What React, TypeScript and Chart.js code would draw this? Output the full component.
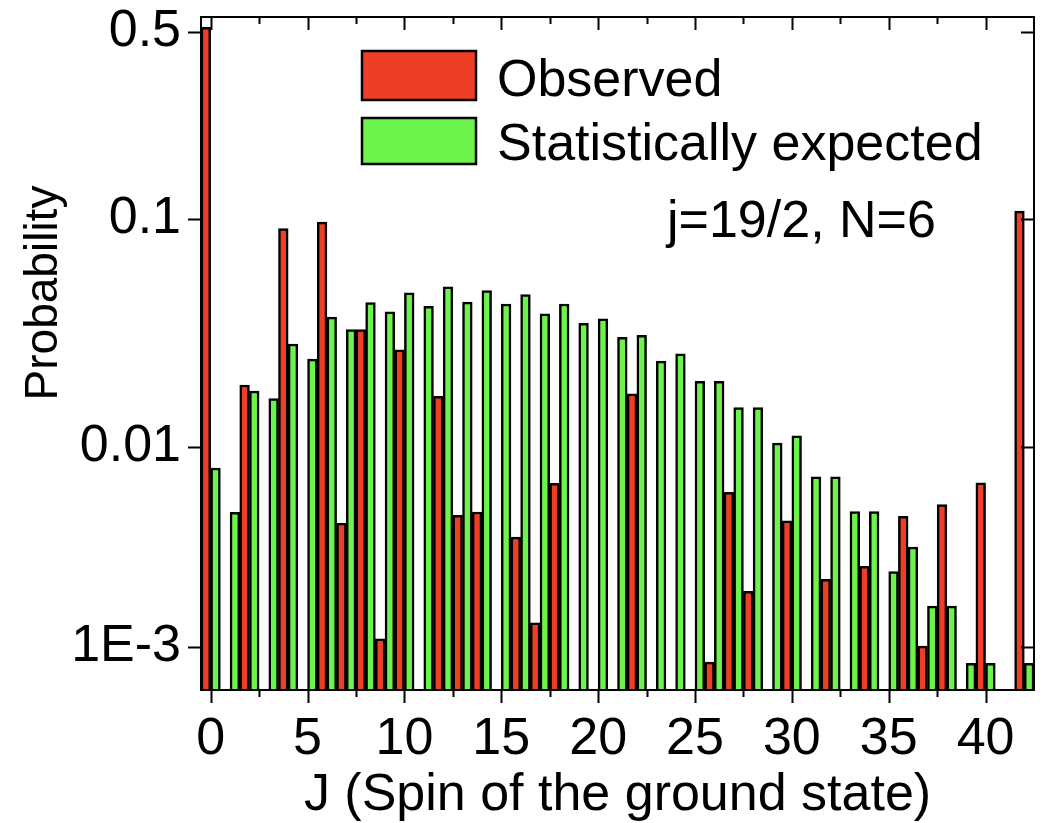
import React, { useEffect, useRef } from 'react';
import { Chart, registerables, LogarithmicScale } from 'chart.js';

Chart.register(...registerables);

// ---------------- data ----------------
const J_VALUES = [
  0, 1, 2, 3, 4, 5, 6, 7, 8, 9, 10, 11, 12, 13, 14, 15, 16, 17, 18, 19, 20,
  21, 22, 23, 24, 25, 26, 27, 28, 29, 30, 31, 32, 33, 34, 35, 36, 37, 38, 39, 40, 41, 42,
];

const OBSERVED: (number | null)[] = [
  0.52, null, 0.0187, null, 0.0908, null, 0.0969, 0.00416, 0.0327, 0.0011,
  0.0267, null, 0.0167, 0.00455, 0.00473, null, 0.00354, 0.00132, 0.00658, null,
  null, null, 0.0171, null, null, null, 0.00084, 0.00594, 0.0019, null,
  0.00427, null, 0.00218, null, 0.00253, null, 0.0045, 0.00101, 0.00516, null,
  0.00662, null, 0.107,
];

const EXPECTED: (number | null)[] = [
  0.00785, 0.00472, 0.0176, 0.0163, 0.0283, 0.0243, 0.0371, 0.0327, 0.043, 0.0392,
  0.0474, 0.0414, 0.0504, 0.0432, 0.0485, 0.0424, 0.0466, 0.0384, 0.0424, 0.0349,
  0.0365, 0.0303, 0.0309, 0.0238, 0.0256, 0.0194, 0.0194, 0.0149, 0.0149, 0.0104,
  0.0112, 0.0071, 0.0071, 0.00475, 0.00475, 0.00238, 0.00316, 0.0016, 0.0016, 0.00083,
  0.00083, null, 0.00083,
];

const X_TICKS = [0, 5, 10, 15, 20, 25, 30, 35, 40];
const Y_TICK_VALUES = [0.5, 0.1, 0.01, 0.001];
const Y_TICK_LABELS = ['0.5', '0.1', '0.01', '1E-3'];
const SERIES_LABELS = ['Observed', 'Statistically expected'];
const ANNOTATION = 'j=19/2, N=6';
const X_TITLE = 'J (Spin of the ground state)';
const Y_TITLE = 'Probability';

// ---------------- style ----------------
const RED = '#EF3E26';
const GREEN = '#6DF44C';
const FONT = '"Liberation Sans", Arial, Helvetica, sans-serif';
const FS = 52;

// The reference's log axis is not uniform between decades; this scale
// reproduces its decade spacing (value -> fraction of the axis height).
const Y_MIN = 0.00061;
const Y_MAX = 0.569;
const Y_AXIS_ANCHORS: [number, number][] = [
  [Y_MIN, 0],
  [0.001, 0.06389],
  [0.01, 0.36107],
  [0.1, 0.69985],
  [0.5, 0.97771],
  [Y_MAX, 1],
];

class PiecewiseLogScale extends LogarithmicScale {
  static id = 'piecewiseLog';
  static defaults = LogarithmicScale.defaults;

  _frac(value: number) {
    const l = Math.log10(value);
    const a = Y_AXIS_ANCHORS.map(([v, f]) => [Math.log10(v), f]);
    let i = 0;
    if (l <= a[0][0]) i = 0;
    else if (l >= a[a.length - 1][0]) i = a.length - 2;
    else {
      while (i < a.length - 2 && l > a[i + 1][0]) i++;
    }
    const [l0, f0] = a[i];
    const [l1, f1] = a[i + 1];
    return f0 + ((l - l0) / (l1 - l0)) * (f1 - f0);
  }

  getPixelForValue(value: any) {
    if (value === undefined || value === 0) value = this.min;
    if (value === null || isNaN(value)) return NaN;
    return this.getPixelForDecimal(this._frac(value));
  }

  getValueForPixel(pixel: number) {
    const f = this.getDecimalForPixel(pixel);
    const a = Y_AXIS_ANCHORS.map(([v, fr]) => [Math.log10(v), fr]);
    let i = 0;
    while (i < a.length - 2 && f > a[i + 1][1]) i++;
    const [l0, f0] = a[i];
    const [l1, f1] = a[i + 1];
    return Math.pow(10, l0 + ((f - f0) / (f1 - f0)) * (l1 - l0));
  }
}
Chart.register(PiecewiseLogScale);

const framePlugin = {
  id: 'framePlugin',
  afterDatasetsDraw(chart: any) {
    const { ctx, chartArea: a, scales } = chart;
    const x = scales.x;
    const y = scales.y;
    ctx.save();
    ctx.strokeStyle = '#000';
    ctx.lineWidth = 2;
    ctx.strokeRect(a.left, a.top, a.right - a.left, a.bottom - a.top);
    ctx.beginPath();
    const xPos: [number, boolean][] = [];
    X_TICKS.forEach((v, i) => {
      xPos.push([v, true]);
      if (i < X_TICKS.length - 1) xPos.push([(v + X_TICKS[i + 1]) / 2, false]);
    });
    xPos.forEach(([v, major]) => {
      const px = Math.round(x.getPixelForValue(v)) + 0.5;
      const len = major ? 13 : 7;
      ctx.moveTo(px, a.bottom);
      ctx.lineTo(px, a.bottom + len);
      ctx.moveTo(px, a.top);
      ctx.lineTo(px, a.top + len);
    });
    Y_TICK_VALUES.forEach((v) => {
      const py = Math.round(y.getPixelForValue(v)) + 0.5;
      ctx.moveTo(a.left, py);
      ctx.lineTo(a.left - 13, py);
      ctx.moveTo(a.right, py);
      ctx.lineTo(a.right - 13, py);
    });
    ctx.stroke();
    ctx.restore();
  },
  afterDraw(chart: any) {
    const { ctx, chartArea: a } = chart;
    ctx.save();
    ctx.fillStyle = '#000';
    ctx.font = `${FS}px ${FONT}`;
    ctx.textBaseline = 'alphabetic';

    // legend
    const boxes = [
      { y: 51, h: 49 },
      { y: 118, h: 46 },
    ];
    chart.data.datasets.forEach((ds: any, i: number) => {
      const b = boxes[i];
      ctx.fillStyle = ds.backgroundColor;
      ctx.fillRect(362, b.y, 114, b.h);
      ctx.strokeStyle = '#000';
      ctx.lineWidth = 2.5;
      ctx.strokeRect(362, b.y, 114, b.h);
      ctx.fillStyle = '#000';
      ctx.textAlign = 'left';
      ctx.fillText(SERIES_LABELS[i], 497, b.y + b.h - 4);
    });

    // annotation
    ctx.textAlign = 'left';
    ctx.fillText(ANNOTATION, 667, 237);

    // x title
    ctx.textAlign = 'center';
    ctx.fillText(X_TITLE, (a.left + a.right) / 2, 810);

    // y title
    ctx.font = `46px ${FONT}`;
    ctx.translate(57, 293);
    ctx.rotate(-Math.PI / 2);
    ctx.textAlign = 'center';
    ctx.fillText(Y_TITLE, 0, 0);
    ctx.restore();
  },
};

export default function App() {
  const ref = useRef<HTMLCanvasElement>(null);

  useEffect(() => {
    if (!ref.current) return;
    const chart = new Chart(ref.current, {
      type: 'bar',
      data: {
        datasets: [
          {
            label: SERIES_LABELS[0],
            data: J_VALUES.map((j, i) => ({ x: j, y: OBSERVED[i] })) as any,
            backgroundColor: RED,
            borderColor: '#000',
            borderWidth: 2.5,
            categoryPercentage: 1,
            barPercentage: 1,
          },
          {
            label: SERIES_LABELS[1],
            data: J_VALUES.map((j, i) => ({ x: j, y: EXPECTED[i] })) as any,
            backgroundColor: GREEN,
            borderColor: '#000',
            borderWidth: 2.5,
            categoryPercentage: 1,
            barPercentage: 1,
          },
        ],
      },
      options: {
        responsive: false,
        animation: false,
        devicePixelRatio: 1,
        events: [],
        layout: { padding: { top: 17, right: 13, left: 0, bottom: 0 } },
        plugins: {
          legend: { display: false },
          tooltip: { enabled: false },
          title: { display: false },
        },
        scales: {
          x: {
            type: 'linear',
            min: -0.5,
            max: 42.5,
            offset: false,
            grid: { display: false, drawTicks: false },
            border: { display: false },
            afterBuildTicks: (s: any) => {
              s.ticks = X_TICKS.map((v) => ({ value: v }));
            },
            afterFit: (s: any) => {
              s.height = 133;
              s.paddingLeft = 0;
              s.paddingRight = 0;
            },
            ticks: {
              autoSkip: false,
              maxRotation: 0,
              padding: 18,
              color: '#000',
              font: { family: FONT, size: FS },
              callback: (v: any) => String(v),
            },
          },
          y: {
            type: 'piecewiseLog' as any,
            min: Y_MIN,
            max: Y_MAX,
            grid: { display: false, drawTicks: false },
            border: { display: false },
            afterBuildTicks: (s: any) => {
              s.ticks = Y_TICK_VALUES.map((v) => ({ value: v }));
            },
            afterFit: (s: any) => {
              s.width = 201;
              s.paddingTop = 0;
              s.paddingBottom = 0;
            },
            ticks: {
              autoSkip: false,
              padding: 20,
              color: '#000',
              font: { family: FONT, size: FS },
              callback: (v: any) => {
                const i = Y_TICK_VALUES.indexOf(Number(v));
                return i >= 0 ? Y_TICK_LABELS[i] : '';
              },
            },
          },
        },
      } as any,
      plugins: [framePlugin],
    });
    return () => chart.destroy();
  }, []);

  return (
    <div style={{ position: 'absolute', left: 0, top: 0, width: 1047, height: 823, background: '#fff' }}>
      <canvas ref={ref} width={1047} height={823} style={{ display: 'block' }} />
    </div>
  );
}
